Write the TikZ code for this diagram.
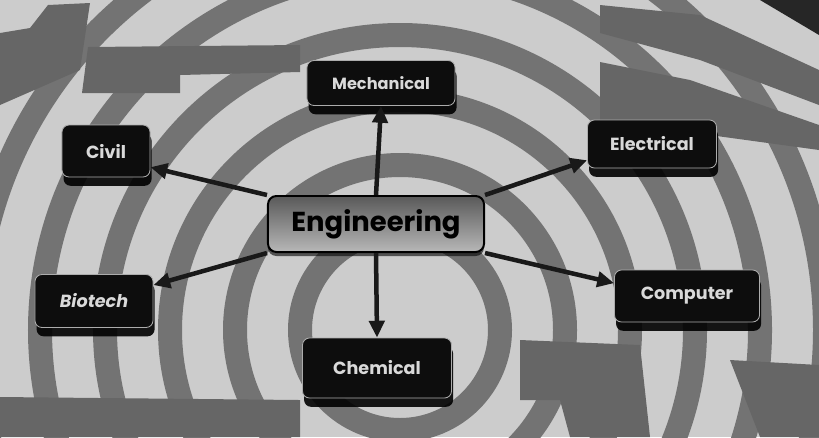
\documentclass[tikz,border=0pt]{standalone}
\usepackage{fontspec}
\setsansfont{Poppins}
\usetikzlibrary{arrows.meta,shadows}

\tikzset{
  leafbox/.style={draw=gray!65,line width=0.6pt,fill=black!95,rounded corners=5pt,
    text=white!85!black,font=\sffamily\bfseries\fontsize{12.5}{14}\selectfont,inner sep=0pt,
    drop shadow={shadow xshift=0.4mm,shadow yshift=-2.2mm,opacity=0.9,fill=black}},
  hubbox/.style={draw=black,line width=1.4pt,rounded corners=6pt,
    top color=black!65,bottom color=black!28,
    font=\sffamily\bfseries\fontsize{19.5}{22}\selectfont,text=black,
    minimum width=5.4cm,minimum height=1.4cm,
    drop shadow={shadow xshift=0mm,shadow yshift=-1mm,opacity=0.6,fill=black}},
  spoke/.style={line width=3.2pt,draw=black!90,-{Triangle[length=4.2mm,width=3.8mm]}},
  ring/.style={draw=black!55,line width=0.6cm},
  blob/.style={fill=black!60}
}

\begin{document}
\begin{tikzpicture}[x=0.025cm,y=-0.025cm]
  \useasboundingbox (0,0) rectangle (819,437);
  % background
  \fill[black!20] (0,0) rectangle (819,437);
  \begin{scope}
    \clip (0,0) rectangle (819,437);
    \foreach \r in {100,165,230,295,360,425}{\draw[ring] (400,330) circle (\r);}
    \fill[blob] (0,33) -- (30,28) -- (48,5) -- (90,3) -- (80,70) -- (0,105) -- cycle;
    \fill[blob] (88,47) -- (300,45) -- (300,72) -- (180,75) -- (180,93) -- (82,93) -- cycle;
    \fill[blob] (600,5) -- (700,15) -- (819,70) -- (819,105) -- (700,60) -- (600,33) -- cycle;
    \fill[blob] (600,62) -- (690,80) -- (819,125) -- (819,150) -- (600,120) -- cycle;
    \fill[blob] (0,397) -- (300,400) -- (300,437) -- (0,437) -- cycle;
    \fill[blob] (520,340) -- (640,345) -- (650,437) -- (570,437) -- (560,400) -- (520,400) -- cycle;
    \fill[blob] (730,360) -- (819,365) -- (819,437) -- (760,437) -- cycle;
    \fill[black!85] (760,0) -- (819,0) -- (819,35) -- cycle;
  \end{scope}
  % nodes
  \node[hubbox] (hub) at (376,224) {Engineering};
  \node[leafbox,minimum width=3.7cm,minimum height=1.125cm,font=\sffamily\bfseries\fontsize{11.5}{13}\selectfont] (mech) at (381,83) {Mechanical};
  \node[leafbox,minimum width=2.2cm,minimum height=1.3cm] (civil) at (106,151) {Civil};
  \node[leafbox,minimum width=3.225cm,minimum height=1.2cm] (elec) at (652,144) {Electrical};
  \node[leafbox,minimum width=2.95cm,minimum height=1.325cm,font=\sffamily\bfseries\itshape\fontsize{12.5}{14}\selectfont] (bio) at (94,301) {Biotech};
  \node[leafbox,minimum width=3.625cm,minimum height=1.3cm] (comp) at (687,296) {Computer};
  \node[leafbox,minimum width=3.725cm,minimum height=1.5cm] (chem) at (377,368) {Chemical};
  % spokes
  \draw[spoke] (hub.north) -- (mech.south);
  \draw[spoke] (hub.south) -- (chem.north);
  \draw[spoke] (hub.north west) -- (civil.-20);
  \draw[spoke] (hub.north east) -- (elec.194);
  \draw[spoke] (hub.south west) -- (bio.15);
  \draw[spoke] (hub.south east) -- (comp.170);
\end{tikzpicture}
\end{document}
